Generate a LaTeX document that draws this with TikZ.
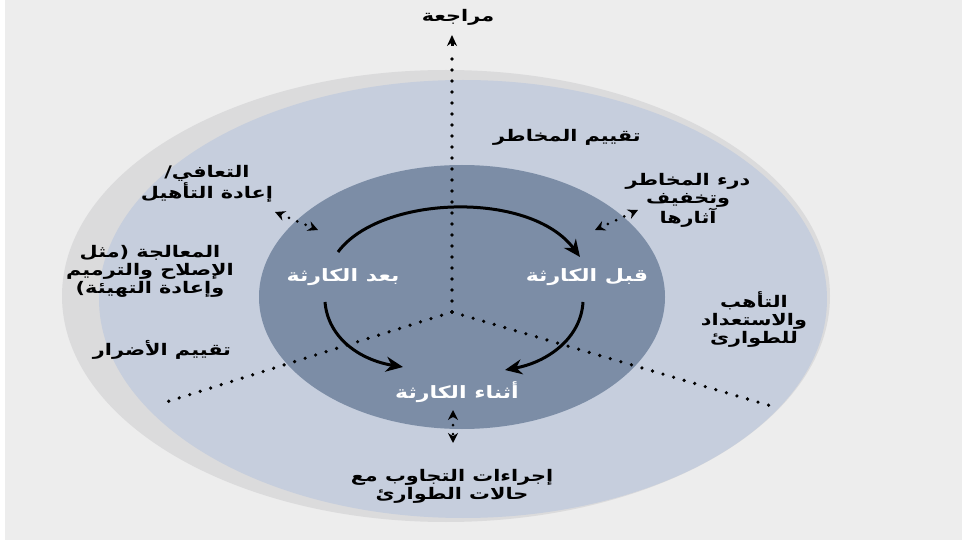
\documentclass[tikz,border=0pt]{standalone}
\usepackage{fontspec}
\newfontfamily\arabicfont[Script=Arabic, FakeStretch=1.3]{DejaVu Sans}
\TeXXeTstate=1
\usetikzlibrary{arrows.meta}

\definecolor{bgcol}{RGB}{237,237,237}
\definecolor{ringcol}{RGB}{219,219,220}
\definecolor{outercol}{RGB}{198,206,221}
\definecolor{innercol}{RGB}{124,141,166}

\begin{document}
\begin{tikzpicture}[x=1pt,y=-1pt,
	lbl/.style={font=\arabicfont\bfseries\fontsize{16}{18}\selectfont, align=center, text=black, inner sep=0pt},
	phase/.style={lbl, font=\arabicfont\bfseries\fontsize{17}{18}\selectfont, text=white},
	cyc/.style={line width=3pt, -{Stealth[length=17pt,width=15pt]}},
	dots/.style={line width=3.6pt, line cap=round, dash pattern=on 0pt off 11pt},
	link/.style={line width=3pt, line cap=round, dash pattern=on 0pt off 9pt,
		{Stealth[length=10pt,width=10pt]}-{Stealth[length=10pt,width=10pt]}}]

	\useasboundingbox (0,0) rectangle (962,540);
	\fill[white] (0,0) rectangle (962,540);
	\fill[bgcol] (5,0) rectangle (962,540);

	% circles
	\fill[ringcol] (446,296) ellipse [x radius=384, y radius=226];
	\fill[outercol] (463,299) ellipse [x radius=364, y radius=219];
	\fill[innercol] (462,297) ellipse [x radius=203, y radius=132];

	\coordinate (hub) at (452,312);
	\coordinate (top) at (452,35);
	\coordinate (sw) at (160,404);
	\coordinate (se) at (778,408);

	\draw[dots] (hub) -- (452,48);
	\draw[dots] (hub) -- (sw);
	\draw[dots] (hub) -- (se);
	\draw[line width=3pt, -{Stealth[length=11pt,width=10pt]}] (452,46) -- (top);

	% phases
	\node[phase] (after) at (343,277) {\beginR بعد الكارثة\endR};
	\node[phase] (before) at (587,277) {\beginR قبل الكارثة\endR};
	\node[phase] (during) at (457,392) {\beginR أثناء الكارثة\endR};

	% outer labels
	\node[lbl] (review) at (458,17) {\beginR مراجعة\endR};
	\node[lbl] (risk) at (567,137) {\beginR تقييم المخاطر\endR};
	\node[lbl] (mitig) at (688,200) {\beginR درء المخاطر\endR\\\beginR وتخفيف\endR\\\beginR آثارها\endR};
	\node[lbl] (recov) at (207,184) {\beginR التعافي/\endR\\\beginR إعادة التأهيل\endR};
	\node[lbl] (repair) at (150,271) {\beginR المعالجة (مثل\endR\\\beginR الإصلاح والترميم\endR\\\beginR وإعادة التهيئة)\endR};
	\node[lbl] (damage) at (162,350) {\beginR تقييم الأضرار\endR};
	\node[lbl] (prep) at (754,320) {\beginR التأهب\endR\\\beginR والاستعداد\endR\\\beginR للطوارئ\endR};
	\node[lbl] (resp) at (452,486) {\beginR إجراءات التجاوب مع\endR\\\beginR حالات الطوارئ\endR};

	% cycle arrows
	\coordinate (a1) at (338,252);
	\coordinate (a2) at (580,257);
	\coordinate (b1) at (583,302);
	\coordinate (b2) at (505,370);
	\coordinate (c1) at (325,302);
	\coordinate (c2) at (403,367);
	\draw[cyc] (a1) .. controls (380,195) and (530,190) .. (a2);
	\draw[cyc] (b1) .. controls (581,338) and (548,362) .. (b2);
	\draw[cyc] (c1) .. controls (328,338) and (360,360) .. (c2);

	% links
	\coordinate (l1) at (275,212);
	\coordinate (l2) at (318,230);
	\coordinate (r1) at (638,210);
	\coordinate (r2) at (595,230);
	\coordinate (d1) at (453,410);
	\coordinate (d2) at (453,443);
	\draw[link] (l1) -- (l2);
	\draw[link] (r1) -- (r2);
	\draw[link] (d1) -- (d2);

\end{tikzpicture}
\end{document}
